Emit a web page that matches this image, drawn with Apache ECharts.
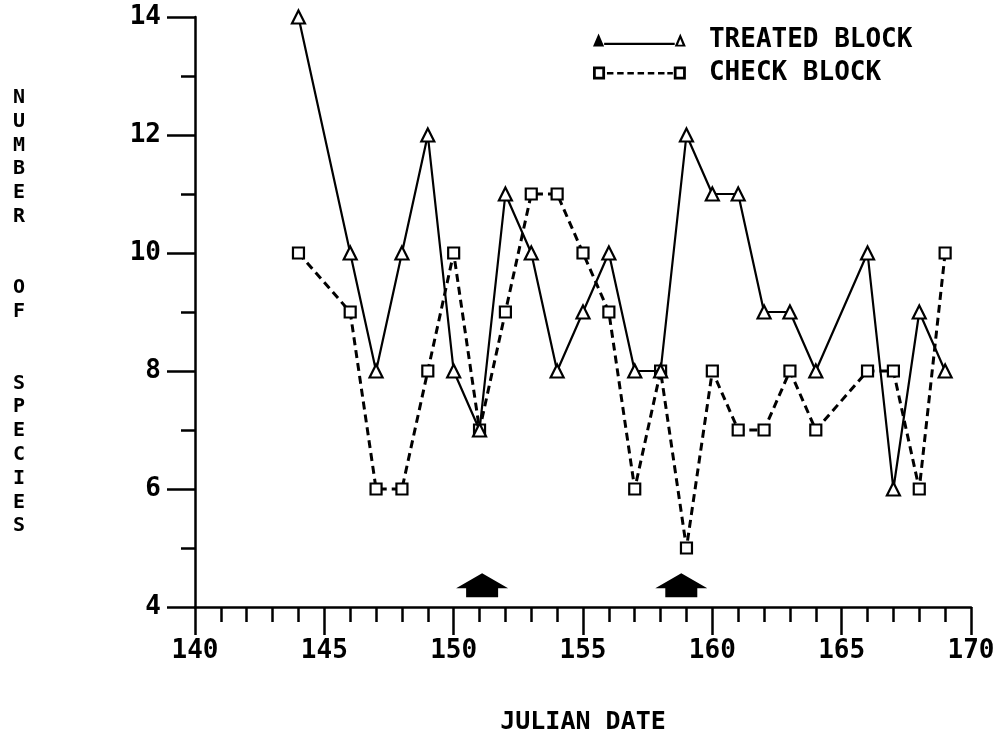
<!DOCTYPE html>
<html><head><meta charset="utf-8">
<script src="https://cdn.jsdelivr.net/npm/echarts@6/dist/echarts.min.js"></script>
<style>html,body{margin:0;padding:0;background:#fff}#chart{width:999px;height:734px}</style>
</head><body><div id="chart"></div>
<script>
// ---- data ----
const treatedDates   = [144,146,147,148,149,150,151,152,153,154,155,156,157,158,159,160,161,162,163,164,166,167,168,169];
const treatedSpecies = [14, 10, 8, 10, 12, 8, 7, 11, 10, 8, 9, 10, 8, 8, 12, 11, 11, 9, 9, 8, 10, 6, 9, 8];
const checkDates     = [144,146,147,148,149,150,151,152,153,154,155,156,157,158,159,160,161,162,163,164,166,167,168,169];
const checkSpecies   = [10, 9, 6, 6, 8, 10, 7, 9, 11, 11, 10, 9, 6, 8, 5, 8, 7, 7, 8, 7, 8, 8, 6, 10];
const arrowDates     = [151.1, 158.8];
const arrowLevel     = [4.37, 4.37];
const seriesNames    = ['TREATED BLOCK', 'CHECK BLOCK'];
const xTitle = 'JULIAN DATE';
const yTitle = 'NUMBER  OF  SPECIES';

const pair = (xs, ys) => xs.map((x, i) => [x, ys[i]]);
const FONT = 'DejaVu Sans Mono';

const treatedIcon = 'path://M0,14L6,0L12,14Z M12,10L88,10L88,12.5L12,12.5Z M88,14L94,0L100,14Z M91.5,12L96.5,12L94,6Z';
const checkIcon = 'path://M0,0L13,0L13,14L0,14Z M3,3L3,11L10,11L10,3Z ' +
  'M15,6L22,6L22,8.5L15,8.5Z M26,6L33,6L33,8.5L26,8.5Z M37,6L44,6L44,8.5L37,8.5Z ' +
  'M48,6L55,6L55,8.5L48,8.5Z M59,6L66,6L66,8.5L59,8.5Z M70,6L77,6L77,8.5L70,8.5Z M80,6L86,6L86,8.5L80,8.5Z ' +
  'M87,0L100,0L100,14L87,14Z M90,3L90,11L97,11L97,3Z';
const arrowIcon = 'path://M0,15L26,0L52,15L42,15L42,24L10,24L10,15Z';

const chart = echarts.init(document.getElementById('chart'), null, {renderer: 'canvas'});
chart.setOption({
  animation: false,
  backgroundColor: '#fff',
  grid: {left: 195, right: 28, top: 17, bottom: 127, containLabel: false, outerBoundsMode: 'none'},
  legend: {
    orient: 'vertical',
    left: 588, top: 22,
    itemWidth: 93, itemHeight: 13, itemGap: 7,
    selectedMode: false,
    itemStyle: {color: '#000', borderWidth: 0},
    textStyle: {fontFamily: FONT, fontSize: 26, fontWeight: 'bold', color: '#000', lineHeight: 26, padding: [0, 0, 0, 18]},
    data: [
      {name: seriesNames[0], icon: treatedIcon},
      {name: seriesNames[1], icon: checkIcon}
    ]
  },
  xAxis: {
    type: 'value', min: 140, max: 170, interval: 5,
    name: xTitle, nameLocation: 'middle', nameGap: 103,
    nameTextStyle: {fontFamily: FONT, fontSize: 25, fontWeight: 'bold', color: '#000'},
    axisLine: {onZero: false, lineStyle: {color: '#000', width: 2.5}},
    axisTick: {show: true, inside: false, length: 28, lineStyle: {color: '#000', width: 2.5}},
    minorTick: {show: true, splitNumber: 5, length: 15, lineStyle: {color: '#000', width: 2.5}},
    axisLabel: {margin: 31, fontFamily: FONT, fontSize: 26, color: '#000', fontWeight: 'bold'},
    splitLine: {show: false}
  },
  yAxis: {
    type: 'value', min: 4, max: 14, interval: 2,
    name: yTitle.split('').join('\n'), nameLocation: 'middle', nameGap: 170, nameRotate: 0,
    nameTextStyle: {fontFamily: FONT, fontSize: 20, fontWeight: 'bold', color: '#000', lineHeight: 23.8, align: 'right'},
    axisLine: {show: true, onZero: false, lineStyle: {color: '#000', width: 2.5}},
    axisTick: {show: true, inside: false, length: 28, lineStyle: {color: '#000', width: 2.5}},
    minorTick: {show: true, splitNumber: 2, length: 14, lineStyle: {color: '#000', width: 2.5}},
    axisLabel: {margin: 34, fontFamily: FONT, fontSize: 26, color: '#000', fontWeight: 'bold'},
    splitLine: {show: false}
  },
  series: [
    {
      name: seriesNames[0], type: 'line', data: pair(treatedDates, treatedSpecies),
      symbol: 'triangle', symbolSize: 13, showAllSymbol: true,
      lineStyle: {color: '#000', width: 2.2, type: 'solid'},
      itemStyle: {color: '#fff', borderColor: '#000', borderWidth: 2.2},
      z: 3
    },
    {
      name: seriesNames[1], type: 'line', data: pair(checkDates, checkSpecies),
      symbol: 'rect', symbolSize: 11, showAllSymbol: true,
      lineStyle: {color: '#000', width: 3, type: [8, 5]},
      itemStyle: {color: '#fff', borderColor: '#000', borderWidth: 2.2},
      z: 2
    },
    {
      name: 'treatment', type: 'scatter', data: pair(arrowDates, arrowLevel),
      symbol: arrowIcon, symbolSize: [52, 24], symbolKeepAspect: false,
      itemStyle: {color: '#000', opacity: 1}, clip: false, silent: true, z: 4
    }
  ]
});
</script></body></html>
